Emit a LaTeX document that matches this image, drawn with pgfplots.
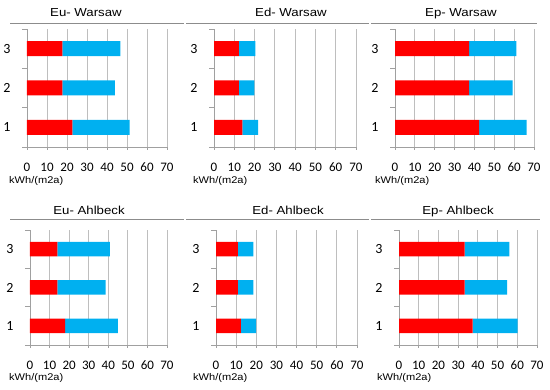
\documentclass[border=0pt]{standalone}
\usepackage{pgfplots}
\pgfplotsset{compat=1.18}
\usepackage{fontspec}
\setmainfont{Liberation Sans}
\newfontfamily\titlefam[FakeStretch=1.14]{Liberation Sans}
\newfontfamily\tickfam{Carlito}
\definecolor{barred}{RGB}{255,0,0}
\definecolor{barblue}{RGB}{0,176,240}
\definecolor{axisgray}{RGB}{160,160,160}
\definecolor{gridgray}{RGB}{190,190,190}
\definecolor{linegray}{RGB}{140,140,140}
\pgfplotsset{
  panel/.style={
    scale only axis, xbar stacked,
    xmin=0, xmax=70, ymin=0.5, ymax=3.5,
    xtick={0,10,...,70}, ytick={1,2,3},
    minor ytick={0.5,1.5,2.5,3.5},
    axis x line*=bottom, axis y line*=left,
    axis line style={draw=axisgray, line width=0.8pt, -},
    xmajorgrids, major grid style={draw=gridgray, line width=0.8pt},
    tick style={draw=axisgray, line width=0.8pt},
    tick align=outside,
    major tick length=3pt, minor tick length=5pt,
    every major y tick/.append style={draw=none},
    /pgf/number format/assume math mode=true,
    xticklabel style={font=\tickfam\fontsize{13}{13}\selectfont, yshift=-12pt, inner sep=1pt},
    yticklabel style={font=\tickfam\fontsize{14}{14}\selectfont, xshift=-10pt},
    clip=false,
  },
}
\newcommand{\ttl}[1]{{\titlefam\fontsize{11.6}{12}\selectfont #1}}
\newcommand{\unit}{{\titlefam\fontsize{9.7}{10}\selectfont kWh/(m2a)}}
\begin{document}
\begin{tikzpicture}
\useasboundingbox (0,0) rectangle (550pt,390pt);
% titles and lines
\node[anchor=base, inner sep=0] at (86pt,373pt) {\ttl{Eu- Warsaw}};
\node[anchor=base, inner sep=0] at (291pt,373pt) {\ttl{Ed- Warsaw}};
\node[anchor=base, inner sep=0] at (461pt,373pt) {\ttl{Ep- Warsaw}};
\node[anchor=base, inner sep=0] at (89pt,175pt) {\ttl{Eu- Ahlbeck}};
\node[anchor=base, inner sep=0] at (288pt,175pt) {\ttl{Ed- Ahlbeck}};
\node[anchor=base, inner sep=0] at (458pt,175pt) {\ttl{Ep- Ahlbeck}};
\draw[linegray, line width=0.8pt] (10pt,367pt) -- (184pt,367pt);
\draw[linegray, line width=0.8pt] (186pt,367pt) -- (369pt,367pt);
\draw[linegray, line width=0.8pt] (371pt,367pt) -- (537pt,367pt);
\draw[linegray, line width=0.8pt] (10pt,171pt) -- (184pt,171pt);
\draw[linegray, line width=0.8pt] (186pt,171pt) -- (369pt,171pt);
\draw[linegray, line width=0.8pt] (371pt,171pt) -- (540pt,171pt);
% unit labels
\node[anchor=base west, inner sep=0] at (9pt,206pt) {\unit};
\node[anchor=base west, inner sep=0] at (193pt,206pt) {\unit};
\node[anchor=base west, inner sep=0] at (375pt,206pt) {\unit};
\node[anchor=base west, inner sep=0] at (9pt,9pt) {\unit};
\node[anchor=base west, inner sep=0] at (193pt,9pt) {\unit};
\node[anchor=base west, inner sep=0] at (377pt,9pt) {\unit};

% Eu- Warsaw
\begin{axis}[panel, at={(27pt,243pt)}, anchor=south west, width=140pt, height=118pt, bar width=15pt]
\addplot[fill=barred, draw=none] coordinates {(22.7,1) (17.7,2) (17.7,3)};
\addplot[fill=barblue, draw=none] coordinates {(28.6,1) (26.3,2) (29.0,3)};
\end{axis}
% Ed- Warsaw
\begin{axis}[panel, at={(214pt,243pt)}, anchor=south west, width=142pt, height=118pt, bar width=15pt]
\addplot[fill=barred, draw=none] coordinates {(14.0,1) (12.3,2) (12.3,3)};
\addplot[fill=barblue, draw=none] coordinates {(7.8,1) (7.6,2) (8.1,3)};
\end{axis}
% Ep- Warsaw
\begin{axis}[panel, at={(395pt,243pt)}, anchor=south west, width=139pt, height=118pt, bar width=15pt]
\addplot[fill=barred, draw=none] coordinates {(42.4,1) (37.3,2) (37.3,3)};
\addplot[fill=barblue, draw=none] coordinates {(23.9,1) (22.0,2) (23.8,3)};
\end{axis}
% Eu- Ahlbeck
\begin{axis}[panel, at={(30pt,45pt)}, anchor=south west, width=137pt, height=115pt, bar width=14.5pt]
\addplot[fill=barred, draw=none] coordinates {(17.9,1) (14.0,2) (14.0,3)};
\addplot[fill=barblue, draw=none] coordinates {(27.0,1) (24.6,2) (26.8,3)};
\end{axis}
% Ed- Ahlbeck
\begin{axis}[panel, at={(216pt,45pt)}, anchor=south west, width=141pt, height=115pt, bar width=14.5pt]
\addplot[fill=barred, draw=none] coordinates {(12.4,1) (10.9,2) (10.9,3)};
\addplot[fill=barblue, draw=none] coordinates {(7.5,1) (7.6,2) (7.6,3)};
\end{axis}
% Ep- Ahlbeck
\begin{axis}[panel, at={(399pt,45pt)}, anchor=south west, width=138pt, height=115pt, bar width=14.5pt]
\addplot[fill=barred, draw=none] coordinates {(37.4,1) (33.3,2) (33.3,3)};
\addplot[fill=barblue, draw=none] coordinates {(22.8,1) (21.5,2) (22.7,3)};
\end{axis}
\end{tikzpicture}
\end{document}
